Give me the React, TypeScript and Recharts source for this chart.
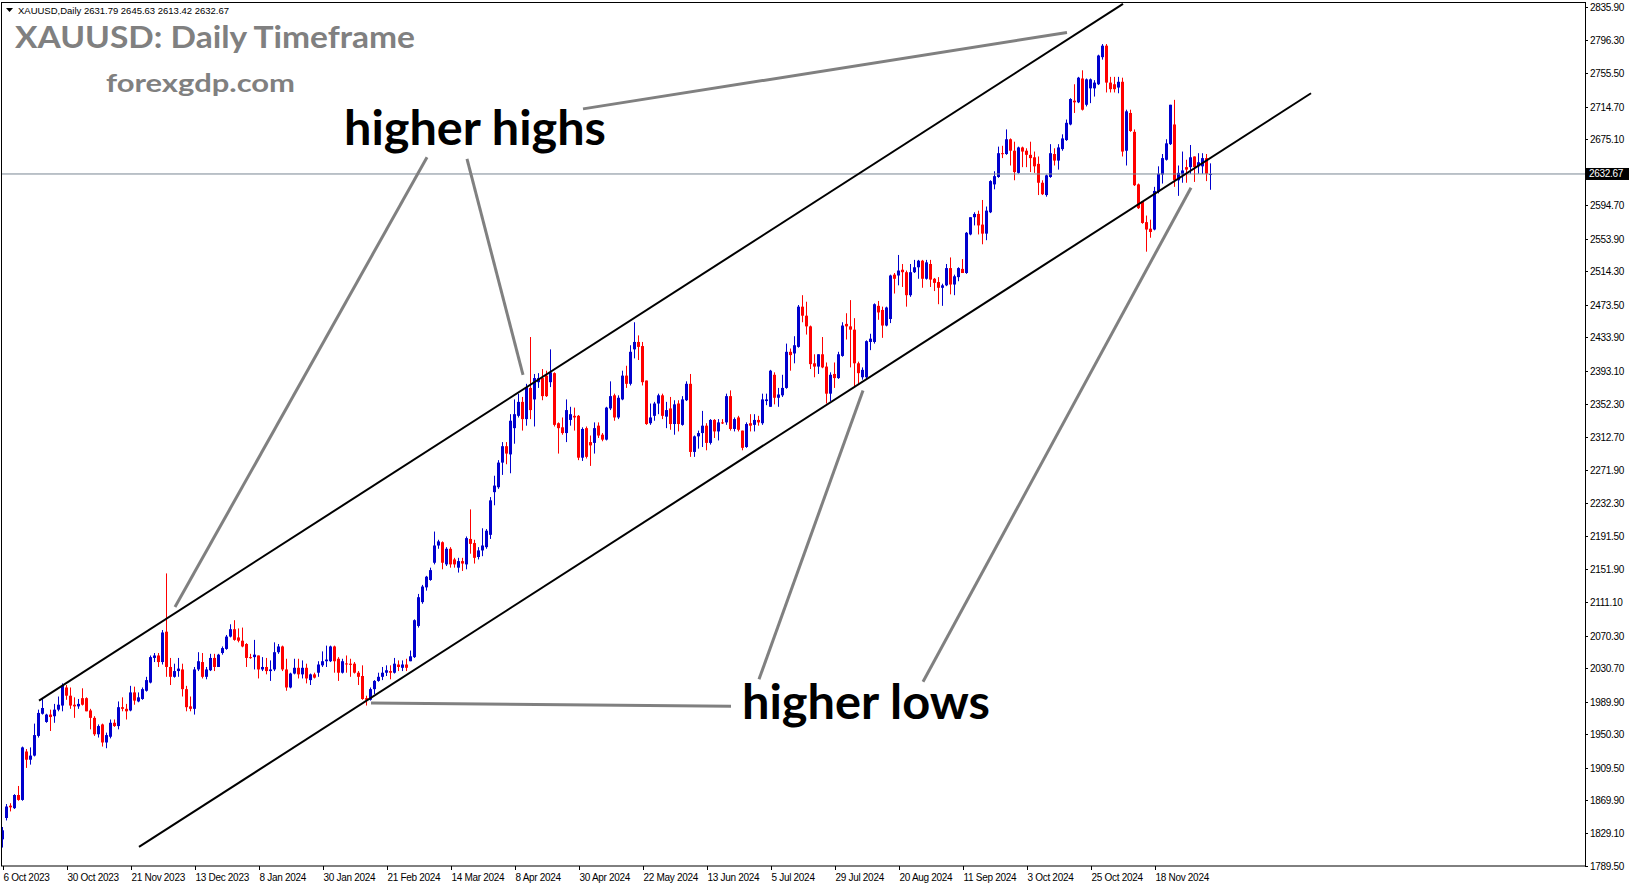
import { ComposedChart, Bar, XAxis, YAxis, ReferenceLine } from 'recharts';

// daily candles, [open, high, low, close]
const ohlc: number[][] = [
  [1822, 1837, 1812, 1833], [1848, 1865, 1845, 1862], [1863, 1866, 1856, 1861], [1860, 1877, 1859, 1876],
  [1876, 1887, 1869, 1870], [1870, 1935, 1869, 1934], [1929, 1932, 1909, 1919], [1919, 1934, 1913, 1924],
  [1924, 1963, 1923, 1949], [1948, 1980, 1946, 1976], [1975, 1993, 1974, 1982], [1965, 1975, 1964, 1974],
  [1974, 1980, 1954, 1971], [1972, 1987, 1964, 1980], [1980, 1996, 1978, 1986], [1985, 2012, 1978, 2010],
  [2007, 2010, 1992, 1997], [1997, 2007, 1981, 1985], [1986, 1995, 1970, 1984], [1984, 1993, 1981, 1987],
  [1994, 2006, 1985, 1986], [1994, 1995, 1978, 1978], [1979, 1981, 1956, 1970], [1970, 1972, 1948, 1950],
  [1950, 1962, 1946, 1960], [1962, 1963, 1935, 1940], [1940, 1952, 1933, 1949], [1947, 1968, 1945, 1964],
  [1964, 1968, 1959, 1960], [1960, 1990, 1956, 1983], [1983, 1995, 1978, 1981], [1981, 1987, 1968, 1978],
  [1979, 2009, 1978, 2001], [2001, 2008, 1986, 1991], [1990, 2001, 1989, 1995], [1993, 2007, 1992, 2005],
  [2003, 2020, 2002, 2016], [2013, 2046, 2012, 2044], [2043, 2049, 2038, 2046], [2046, 2049, 2032, 2038],
  [2038, 2077, 2035, 2074], [2075, 2146, 2020, 2032], [2032, 2043, 2010, 2020], [2020, 2036, 2019, 2027],
  [2027, 2043, 2020, 2030], [2029, 2036, 1996, 2005], [2005, 2009, 1978, 1983], [1984, 1996, 1978, 1981],
  [1981, 2032, 1974, 2029], [2029, 2050, 2027, 2039], [2038, 2049, 2018, 2020], [2020, 2032, 2017, 2029],
  [2028, 2048, 2027, 2043], [2043, 2048, 2027, 2032], [2032, 2048, 2032, 2047], [2049, 2057, 2047, 2055],
  [2054, 2071, 2053, 2069], [2069, 2084, 2068, 2078], [2078, 2089, 2064, 2065], [2068, 2079, 2062, 2064],
  [2064, 2080, 2056, 2057], [2060, 2061, 2032, 2043], [2044, 2048, 2042, 2043], [2044, 2065, 2029, 2047],
  [2046, 2046, 2018, 2029], [2029, 2044, 2027, 2032], [2032, 2043, 2023, 2027], [2027, 2040, 2015, 2029],
  [2029, 2062, 2027, 2050], [2050, 2060, 2048, 2057], [2057, 2058, 2027, 2029], [2029, 2042, 2003, 2007],
  [2007, 2025, 2006, 2024], [2024, 2042, 2023, 2031], [2031, 2042, 2018, 2023], [2023, 2040, 2018, 2031],
  [2031, 2036, 2012, 2018], [2016, 2024, 2010, 2023], [2023, 2025, 2018, 2019], [2025, 2039, 2020, 2035],
  [2034, 2051, 2032, 2039], [2039, 2058, 2032, 2041], [2039, 2058, 2038, 2057], [2057, 2058, 2025, 2039],
  [2042, 2044, 2015, 2025], [2025, 2042, 2024, 2039], [2036.3, 2046, 2025, 2035.5], [2036, 2042, 2020, 2034.6],
  [2036, 2038, 2024, 2025], [2025, 2027, 2010, 2020], [2021, 2034, 1992, 1993], [1994, 1997, 1985, 1992],
  [1992, 2007, 1991, 2005], [2005, 2016, 1999, 2015], [2015, 2025, 2014, 2020], [2020, 2032, 2016, 2025],
  [2025, 2034, 2021, 2028], [2027, 2034, 2017, 2025], [2025, 2043, 2024, 2036], [2035, 2040, 2027, 2032],
  [2031, 2040, 2027, 2035], [2035, 2042, 2027, 2031], [2039, 2052, 2039, 2045], [2044, 2090, 2043, 2089],
  [2082, 2121, 2080, 2117], [2111, 2132, 2109, 2130], [2129, 2143, 2125, 2142], [2138, 2153, 2137, 2150],
  [2159, 2197, 2157, 2180], [2180, 2187, 2176, 2185], [2184, 2185, 2151, 2159], [2157, 2178, 2155, 2176],
  [2176, 2178, 2153, 2157], [2163, 2165, 2153, 2157], [2153, 2165, 2147, 2161], [2161, 2165, 2149, 2158],
  [2157, 2191, 2151, 2189], [2188, 2224, 2170, 2182], [2183, 2187, 2158, 2165], [2166, 2178, 2163, 2174],
  [2174, 2201, 2167, 2180], [2178, 2200, 2176, 2198], [2193, 2239, 2188, 2235], [2245, 2265, 2229, 2253],
  [2251, 2284, 2249, 2281], [2281, 2306, 2266, 2301], [2301, 2306, 2279, 2292], [2291, 2340, 2268, 2332],
  [2323, 2358, 2304, 2340], [2338, 2365, 2336, 2355], [2355, 2361, 2320, 2334], [2334, 2377, 2326, 2373],
  [2372, 2434, 2334, 2345], [2358, 2389, 2325, 2384], [2379, 2390, 2372, 2384], [2384, 2395, 2357, 2362],
  [2387, 2393, 2361, 2362], [2379, 2419, 2373, 2391], [2390, 2391, 2325, 2327], [2329, 2330, 2292, 2323],
  [2324, 2336, 2315, 2317], [2317, 2358, 2306, 2345], [2333, 2349, 2326, 2340], [2338, 2348, 2320, 2336],
  [2338, 2339, 2284, 2287], [2287, 2324, 2283, 2322], [2323, 2325, 2286, 2288], [2306, 2314, 2277, 2302],
  [2305, 2330, 2292, 2323], [2326, 2330, 2311, 2314], [2315, 2317, 2307, 2309], [2309, 2349, 2308, 2348],
  [2347, 2380, 2345, 2362], [2363, 2365, 2332, 2336], [2336, 2363, 2334, 2360], [2358, 2393, 2357, 2387],
  [2387, 2399, 2372, 2377], [2377, 2424, 2375, 2416], [2419, 2452, 2408, 2428], [2428, 2436, 2406, 2422],
  [2423, 2428, 2375, 2379], [2381, 2381, 2327, 2328], [2329, 2353, 2327, 2336], [2338, 2355, 2332, 2353],
  [2353, 2365, 2340, 2363], [2363, 2365, 2334, 2338], [2337, 2355, 2323, 2345], [2347, 2361, 2321, 2328],
  [2328, 2357, 2315, 2352], [2353, 2357, 2319, 2328], [2327, 2362, 2326, 2358], [2357, 2380, 2356, 2377],
  [2377, 2389, 2288, 2294], [2294, 2314, 2288, 2313], [2313, 2320, 2298, 2317], [2317, 2344, 2300, 2326],
  [2326, 2329, 2296, 2305], [2305, 2334, 2303, 2333], [2333, 2334, 2311, 2319], [2319, 2334, 2308, 2330],
  [2330, 2334, 2328, 2329], [2330, 2365, 2327, 2362], [2362, 2369, 2320, 2322], [2322, 2336, 2319, 2334],
  [2336, 2338, 2319, 2321], [2320, 2320, 2296, 2299], [2300, 2330, 2299, 2328], [2329, 2340, 2319, 2326],
  [2327, 2340, 2319, 2333], [2333, 2338, 2326, 2330], [2329, 2365, 2327, 2358], [2356, 2365, 2351, 2358],
  [2349, 2394, 2349, 2393], [2388, 2391, 2352, 2360], [2360, 2372, 2349, 2364], [2363, 2388, 2361, 2372],
  [2372, 2426, 2371, 2416], [2416, 2420, 2393, 2412], [2414, 2435, 2402, 2424], [2422, 2473, 2421, 2471],
  [2471, 2485, 2452, 2460], [2460, 2477, 2437, 2447], [2447, 2448, 2395, 2401], [2402, 2413, 2385, 2398],
  [2398, 2413, 2389, 2413], [2413, 2434, 2396, 2397], [2398, 2403, 2353, 2365], [2365, 2391, 2356, 2388],
  [2389, 2403, 2372, 2384], [2384, 2416, 2383, 2413], [2411, 2452, 2410, 2448], [2450, 2463, 2431, 2447],
  [2447, 2479, 2397, 2443], [2443, 2457, 2373, 2402], [2402, 2404, 2377, 2390], [2385, 2397, 2382, 2394],
  [2385, 2430, 2383, 2429], [2428, 2438, 2418, 2432], [2428, 2475, 2426, 2474], [2472, 2478, 2455, 2464],
  [2467, 2471, 2433, 2448], [2448, 2471, 2447, 2470], [2456, 2510, 2451, 2509], [2510, 2512, 2487, 2505],
  [2509, 2534, 2497, 2515], [2516, 2523, 2495, 2513], [2513, 2515, 2471, 2485], [2485, 2523, 2483, 2513],
  [2513, 2528, 2512, 2519], [2519, 2528, 2505, 2527], [2527, 2528, 2494, 2505], [2505, 2528, 2504, 2525],
  [2523, 2528, 2495, 2504], [2505, 2506, 2490, 2500], [2501, 2507, 2474, 2494], [2494, 2499, 2472, 2497],
  [2497, 2523, 2496, 2518], [2518, 2531, 2486, 2498], [2498, 2510, 2485, 2508], [2507, 2519, 2502, 2518],
  [2517, 2529, 2512, 2512], [2512, 2562, 2511, 2561], [2559, 2580, 2558, 2580], [2580, 2586, 2570, 2584],
  [2584, 2588, 2559, 2570], [2571, 2601, 2547, 2560], [2560, 2593, 2552, 2588], [2586, 2625, 2585, 2624],
  [2620, 2636, 2614, 2630], [2629, 2666, 2628, 2658], [2658, 2667, 2652, 2657], [2657, 2687, 2656, 2675],
  [2675, 2676, 2643, 2661], [2661, 2672, 2625, 2635], [2634, 2666, 2633, 2665], [2665, 2666, 2641, 2660],
  [2661, 2664, 2641, 2656], [2656, 2672, 2635, 2652], [2653, 2660, 2634, 2642], [2645, 2654, 2607, 2622],
  [2622, 2625, 2607, 2608], [2607, 2632, 2605, 2631], [2629, 2669, 2628, 2658], [2657, 2664, 2643, 2649],
  [2649, 2669, 2638, 2665], [2663, 2681, 2661, 2676], [2674, 2699, 2673, 2695], [2693, 2725, 2692, 2724],
  [2722, 2742, 2707, 2720], [2720, 2751, 2719, 2750], [2749, 2759, 2710, 2711], [2717, 2749, 2715, 2748],
  [2737, 2749, 2719, 2748], [2737, 2747, 2727, 2744], [2742, 2778, 2741, 2777], [2775, 2791, 2772, 2789],
  [2789, 2791, 2732, 2744], [2744, 2751, 2732, 2736], [2742, 2751, 2732, 2736], [2738, 2751, 2731, 2745],
  [2745, 2750, 2654, 2660], [2661, 2711, 2643, 2709], [2707, 2711, 2684, 2685], [2684, 2687, 2618, 2619],
  [2620, 2621, 2590, 2591], [2599, 2599, 2572, 2573], [2574, 2582, 2538, 2565], [2566, 2577, 2555, 2562],
  [2565, 2617, 2564, 2612], [2611, 2642, 2609, 2633], [2632, 2657, 2621, 2652], [2650, 2675, 2649, 2670],
  [2669, 2717, 2668, 2717], [2693, 2723, 2617, 2625], [2625, 2643, 2606, 2634], [2632, 2660, 2622, 2637],
  [2641, 2650, 2622, 2638], [2641, 2668, 2633, 2653], [2654, 2654, 2623, 2641], [2642, 2658, 2633, 2647],
  [2642, 2658, 2633, 2652], [2652, 2657, 2624, 2633], [2631.79, 2645.63, 2613.42, 2632.67],
];

const dateLabels = [
  '6 Oct 2023', '30 Oct 2023', '21 Nov 2023', '13 Dec 2023', '8 Jan 2024', '30 Jan 2024', '21 Feb 2024',
  '14 Mar 2024', '8 Apr 2024', '30 Apr 2024', '22 May 2024', '13 Jun 2024', '5 Jul 2024', '29 Jul 2024',
  '20 Aug 2024', '11 Sep 2024', '3 Oct 2024', '25 Oct 2024', '18 Nov 2024',
];
const labelEvery = 16; // bars between date labels

const priceTicks = [
  2835.9, 2796.3, 2755.5, 2714.7, 2675.1, 2594.7, 2553.9, 2514.3, 2473.5, 2433.9, 2393.1, 2352.3, 2312.7,
  2271.9, 2232.3, 2191.5, 2151.9, 2111.1, 2070.3, 2030.7, 1989.9, 1950.3, 1909.5, 1869.9, 1829.1, 1789.5,
];
const lastPrice = 2632.67;

// trend channel + annotation pointers, in [barIndex, price]
const channelLines = [
  [[9, 1991], [280, 2840]],
  [[34, 1812.7], [327, 2731]],
];
const pointerLines = [
  [[145, 2712], [266, 2805]],
  [[106, 2653], [43, 2105]],
  [[116, 2651], [130, 2388]],
  [[92, 1988], [182, 1984]],
  [[189, 2017], [215, 2369]],
  [[230, 2014], [297, 2616]],
];

const SLOTS = 396; // bars incl. empty space on the right
const rows = Array.from({ length: SLOTS }, (_, i) => {
  const c = ohlc[i];
  return c ? { i, open: c[0], high: c[1], low: c[2], close: c[3] } : { i };
});
const labelAt: Record<number, string> = {};
dateLabels.forEach((d, k) => { labelAt[k * labelEvery] = d; });
const xTicks = dateLabels.map((_, k) => k * labelEvery);

const axisFont = { fontFamily: '"Liberation Sans", Arial, sans-serif', fontSize: 10, letterSpacing: -0.3 };

const Candle = (props: any) => {
  const { x, y, width, height, payload } = props;
  if (!payload || payload.high == null) return null;
  const { open, high, low, close } = payload;
  const color = close >= open ? '#0000cd' : '#ff0000';
  const top = Math.min(y, y + height);
  const h = Math.abs(height);
  const k = high === low ? 0 : h / (high - low);
  const yo = top + (high - open) * k;
  const yc = top + (high - close) * k;
  const cx = Math.floor(x + width / 2);
  const bTop = Math.min(yo, yc);
  const bH = Math.max(1, Math.abs(yo - yc));
  return (
    <g>
      <line x1={cx + 0.5} x2={cx + 0.5} y1={top} y2={top + h} stroke={color} strokeWidth={1} />
      <rect x={cx - 1} y={bTop} width={3} height={bH} fill={color} />
    </g>
  );
};

const XTick = (props: any) => {
  const { x, y, payload } = props;
  const label = labelAt[payload.value];
  if (!label) return null;
  const px = Math.floor(x) + 0.5;
  return (
    <g>
      <line x1={px} x2={px} y1={y} y2={y + 4} stroke="#000" />
      <text x={px} y={y + 15} style={axisFont} fill="#000" textAnchor="start">{label}</text>
    </g>
  );
};

const YTick = (props: any) => {
  const { x, y, payload } = props;
  const py = Math.round(y) + 0.5;
  return (
    <g>
      <line x1={x} x2={x + 3} y1={py} y2={py} stroke="#000" />
      <text x={x + 5} y={py + 3.5} style={axisFont} fill="#000">{payload.value.toFixed(2)}</text>
    </g>
  );
};

const PriceTag = (props: any) => {
  const vb = props.viewBox;
  if (!vb) return null;
  const x = vb.x + vb.width;
  const y = vb.y;
  return (
    <g>
      <rect x={x + 1} y={y - 6} width={43} height={12} fill="#000" />
      <text x={x + 4} y={y + 3.5} style={axisFont} fill="#fff">{lastPrice.toFixed(2)}</text>
    </g>
  );
};

export default function App() {
  return (
    <div style={{ position: 'absolute', left: 0, top: 0, width: 1631, height: 888, background: '#fff' }}>
      <ComposedChart width={1631} height={888} data={rows} margin={{ top: 3, right: 0, left: 1, bottom: 0 }}>
        <XAxis
          dataKey="i"
          type="category"
          ticks={xTicks}
          interval={0}
          tick={<XTick />}
          tickLine={false}
          axisLine={false}
          tickSize={0}
          tickMargin={0}
          height={22}
        />
        <YAxis
          orientation="right"
          domain={[1789.5, 2841]}
          type="number"
          allowDataOverflow
          ticks={priceTicks}
          interval={0}
          tick={<YTick />}
          tickLine={false}
          axisLine={false}
          tickSize={0}
          tickMargin={0}
          width={46}
        />
        <ReferenceLine y={lastPrice} stroke="#7a8694" strokeWidth={1} label={(p: any) => <PriceTag {...p} />} />
        <Bar
          dataKey={(d: any) => (d.high == null ? null : [d.low, d.high])}
          shape={<Candle />}
          isAnimationActive={false}
        />
        {channelLines.map((s, k) => (
          <ReferenceLine
            key={'c' + k}
            segment={[{ x: s[0][0], y: s[0][1] }, { x: s[1][0], y: s[1][1] }]}
            stroke="#000"
            strokeWidth={2}
            ifOverflow="visible"
          />
        ))}
        {pointerLines.map((s, k) => (
          <ReferenceLine
            key={'p' + k}
            segment={[{ x: s[0][0], y: s[0][1] }, { x: s[1][0], y: s[1][1] }]}
            stroke="#808080"
            strokeWidth={3}
            ifOverflow="visible"
          />
        ))}
      </ComposedChart>
      <svg width={1631} height={888} style={{ position: 'absolute', left: 0, top: 0, pointerEvents: 'none' }}>
        <rect x={1.5} y={2.5} width={1584} height={863.5} fill="none" stroke="#000" strokeWidth={1} />
        <path d="M6 8 L13 8 L9.5 12 Z" fill="#000" />
        <text x={18} y={14} textLength={211} lengthAdjust="spacingAndGlyphs" style={{ fontFamily: '"Liberation Sans", Arial, sans-serif', fontSize: 9.5 }}>
          XAUUSD,Daily  2631.79 2645.63 2613.42 2632.67
        </text>
        <text x={15} y={48} textLength={400} lengthAdjust="spacingAndGlyphs" fill="#808080" style={{ fontFamily: 'Lato, sans-serif', fontWeight: 700, fontSize: 30 }}>
          XAUUSD: Daily Timeframe
        </text>
        <text x={106} y={92} textLength={189} lengthAdjust="spacingAndGlyphs" fill="#808080" style={{ fontFamily: 'Lato, sans-serif', fontWeight: 700, fontSize: 25 }}>
          forexgdp.com
        </text>
        <text x={344} y={145} textLength={262} lengthAdjust="spacingAndGlyphs" fill="#000" style={{ fontFamily: 'Lato, sans-serif', fontWeight: 700, fontSize: 47 }}>
          higher highs
        </text>
        <text x={742} y={719} textLength={248} lengthAdjust="spacingAndGlyphs" fill="#000" style={{ fontFamily: 'Lato, sans-serif', fontWeight: 700, fontSize: 47 }}>
          higher lows
        </text>
      </svg>
    </div>
  );
}
